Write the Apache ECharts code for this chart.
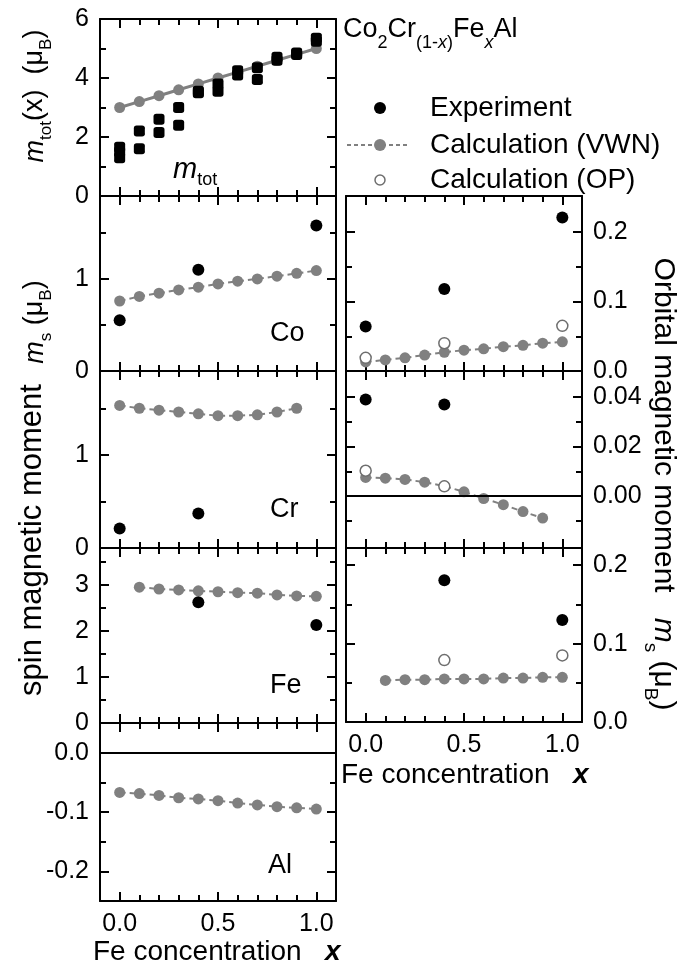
<!DOCTYPE html>
<html><head><meta charset="utf-8">
<script src="https://cdn.jsdelivr.net/npm/echarts@6/dist/echarts.min.js"></script>
<style>html,body{margin:0;padding:0;background:#fff}#c{width:688px;height:968px}</style>
</head><body><div id="c"></div>
<script>
// ---------- data ----------
const xAll = [0, 0.1, 0.2, 0.3, 0.4, 0.5, 0.6, 0.7, 0.8, 0.9, 1.0];
const xCr = [0, 0.1, 0.2, 0.3, 0.4, 0.5, 0.6, 0.7, 0.8, 0.9];
const xFe = [0.1, 0.2, 0.3, 0.4, 0.5, 0.6, 0.7, 0.8, 0.9, 1.0];
const xExp3 = [0, 0.4, 1.0];
const xExpCr = [0, 0.4];
const xExpFe = [0.4, 1.0];

const totExpX = [0, 0, 0, 0.1, 0.1, 0.2, 0.2, 0.3, 0.3, 0.4, 0.4, 0.5, 0.5, 0.6, 0.6, 0.7, 0.7, 0.8, 0.8, 0.9, 0.9, 1.0, 1.0];
const totExp = [1.65, 1.5, 1.3, 2.2, 1.6, 2.6, 2.15, 3.0, 2.4, 3.55, 3.5, 3.8, 3.55, 4.25, 4.1, 4.35, 3.95, 4.7, 4.6, 4.85, 4.8, 5.35, 5.25];
const totExpErr = [0.1, 0.1, 0.1, 0.1, 0.1, 0.1, 0.1, 0.1, 0.1, 0.1, 0.1, 0.1, 0.1, 0.1, 0.1, 0.1, 0.1, 0.1, 0.1, 0.1, 0.1, 0.1, 0.1];
const totVWN = [3.0, 3.2, 3.4, 3.6, 3.8, 4.0, 4.2, 4.4, 4.6, 4.8, 5.0];

const coSpinVWN = [0.76, 0.81, 0.845, 0.88, 0.91, 0.945, 0.975, 1.0, 1.03, 1.06, 1.09];
const coSpinExp = [0.55, 1.1, 1.58];
const crSpinVWN = [1.53, 1.50, 1.48, 1.46, 1.44, 1.42, 1.42, 1.43, 1.46, 1.50];
const crSpinExp = [0.21, 0.37];
const feSpinVWN = [2.95, 2.91, 2.89, 2.87, 2.85, 2.83, 2.82, 2.78, 2.76, 2.75];
const feSpinExp = [2.62, 2.13];
const alSpinVWN = [-0.067, -0.069, -0.072, -0.076, -0.078, -0.081, -0.085, -0.088, -0.091, -0.093, -0.095];

const coOrbVWN = [0.013, 0.016, 0.019, 0.023, 0.027, 0.030, 0.032, 0.035, 0.037, 0.040, 0.042];
const coOrbExp = [0.064, 0.118, 0.221];
const coOrbOP = [0.019, 0.040, 0.065];
const crOrbVWN = [0.0075, 0.0072, 0.0067, 0.0056, 0.0040, 0.0017, -0.0010, -0.0035, -0.0063, -0.0089];
const crOrbExp = [0.039, 0.037];
const crOrbOP = [0.0102, 0.0039];
const feOrbVWN = [0.053, 0.054, 0.054, 0.055, 0.055, 0.055, 0.056, 0.056, 0.057, 0.057];
const feOrbExp = [0.181, 0.130];
const feOrbOP = [0.079, 0.085];

const xMajor = [0, 0.5, 1.0];
const xMinor = [0.1, 0.2, 0.3, 0.4, 0.6, 0.7, 0.8, 0.9];

// ---------- layout / style ----------
const FONT = '"Liberation Sans", Arial, Helvetica, sans-serif';
const GREY = '#808080';
const panels = [
  {left: 100, top: 19,  h: 177, min: 0, max: 6,    major: [0, 2, 4, 6], minor: [1, 3, 5], side: 'left', dec: 0, xl: false},
  {left: 100, top: 196, h: 175, min: 0, max: 1.9,  major: [0, 1], minor: [0.5, 1.5], side: 'left', dec: 0, xl: false},
  {left: 100, top: 371, h: 177, min: 0, max: 1.9,  major: [0, 1], minor: [0.5, 1.5], side: 'left', dec: 0, xl: false},
  {left: 100, top: 548, h: 175, min: 0, max: 3.8,  major: [0, 1, 2, 3], minor: [0.5, 1.5, 2.5, 3.5], side: 'left', dec: 0, xl: false},
  {left: 100, top: 723, h: 178, min: -0.25, max: 0.05, major: [-0.2, -0.1, 0], minor: [-0.15, -0.05], side: 'left', dec: 1, xl: true},
  {left: 346, top: 196, h: 175, min: 0, max: 0.252, major: [0, 0.1, 0.2], minor: [0.05, 0.15], side: 'right', dec: 1, xl: false},
  {left: 346, top: 371, h: 177, min: -0.021, max: 0.0505, major: [0, 0.02, 0.04], minor: [-0.01, 0.01, 0.03], side: 'right', dec: 2, xl: false},
  {left: 346, top: 548, h: 174, min: 0, max: 0.222, major: [0, 0.1, 0.2], minor: [0.05, 0.15], side: 'right', dec: 1, xl: true}
];

const grids = [], xAxes = [], yAxes = [];
function mkX(g, pos, vals, len, line, labels) {
  return {gridIndex: g, type: 'value', min: -0.1, max: 1.1, position: pos,
    axisLine: {show: line, onZero: false, lineStyle: {color: '#000', width: 2}},
    axisTick: {show: true, inside: true, length: len, customValues: vals, lineStyle: {color: '#000', width: 2}},
    axisLabel: {show: labels, customValues: vals, formatter: v => (+v).toFixed(1), fontSize: 25, color: '#000', fontFamily: FONT, margin: 11},
    splitLine: {show: false}};
}
function mkY(g, p, pos, vals, len, line, labels) {
  return {gridIndex: g, type: 'value', min: p.min, max: p.max, position: pos,
    axisLine: {show: line, onZero: false, lineStyle: {color: '#000', width: 2}},
    axisTick: {show: true, inside: true, length: len, customValues: vals, lineStyle: {color: '#000', width: 2}},
    axisLabel: {show: labels, customValues: vals, formatter: v => (+v).toFixed(p.dec), fontSize: 25, color: '#000', fontFamily: FONT, margin: 11},
    splitLine: {show: false}};
}
panels.forEach((p, g) => {
  grids.push({left: p.left, top: p.top, width: 236, height: p.h, outerBoundsMode: 'none', containLabel: false});
  xAxes.push(mkX(g, 'bottom', xMajor, 9, true, p.xl));
  xAxes.push(mkX(g, 'bottom', xMinor, 6, false, false));
  xAxes.push(mkX(g, 'top', xMajor, 9, true, false));
  xAxes.push(mkX(g, 'top', xMinor, 6, false, false));
  yAxes.push(mkY(g, p, 'left', p.major, 9, true, p.side === 'left'));
  yAxes.push(mkY(g, p, 'left', p.minor, 6, false, false));
  yAxes.push(mkY(g, p, 'right', p.major, 9, true, p.side === 'right'));
  yAxes.push(mkY(g, p, 'right', p.minor, 6, false, false));
});

const zip = (xa, ya) => ya.map((v, i) => [xa[i], v]);
const series = [];
function vwn(g, xa, ya, dashed, zero) {
  const s = {type: 'line', xAxisIndex: 4 * g, yAxisIndex: 4 * g, data: zip(xa, ya), symbol: 'circle', symbolSize: 11,
    itemStyle: {color: GREY, opacity: 1}, lineStyle: {color: GREY, width: dashed ? 2 : 3, type: dashed ? [6, 4] : 'solid'}, z: 3, silent: true};
  if (zero) s.markLine = {silent: true, symbol: 'none', label: {show: false}, lineStyle: {color: '#000', width: 2, type: 'solid'}, data: [{yAxis: 0}]};
  series.push(s);
}
function exp(g, xa, ya, sym, size) {
  series.push({type: 'scatter', xAxisIndex: 4 * g, yAxisIndex: 4 * g, data: zip(xa, ya), symbol: sym || 'circle', symbolSize: size || 12,
    itemStyle: {color: '#000', opacity: 1}, z: 4, silent: true});
}
function op(g, xa, ya) {
  series.push({type: 'scatter', xAxisIndex: 4 * g, yAxisIndex: 4 * g, data: zip(xa, ya), symbol: 'circle', symbolSize: 11,
    itemStyle: {color: '#fff', borderColor: '#6e6e6e', borderWidth: 1.5, opacity: 1}, z: 5, silent: true});
}
vwn(0, xAll, totVWN, false);
// error bars for the measured total moment
series.push({type: 'custom', xAxisIndex: 0, yAxisIndex: 0, z: 4, silent: true,
  data: totExp.map((v, i) => [totExpX[i], v, totExpErr[i]]),
  renderItem: (params, api) => {
    const x = api.value(0), y = api.value(1), e = api.value(2);
    const a = api.coord([x, y + e]), b = api.coord([x, y - e]);
    const st = {stroke: '#000', lineWidth: 2};
    return {type: 'group', children: [
      {type: 'line', shape: {x1: a[0], y1: a[1], x2: b[0], y2: b[1]}, style: st},
      {type: 'line', shape: {x1: a[0] - 5, y1: a[1], x2: a[0] + 5, y2: a[1]}, style: st},
      {type: 'line', shape: {x1: b[0] - 5, y1: b[1], x2: b[0] + 5, y2: b[1]}, style: st}
    ]};
  }});
exp(0, totExpX, totExp, 'roundRect', 11);
vwn(1, xAll, coSpinVWN, true); exp(1, xExp3, coSpinExp);
vwn(2, xCr, crSpinVWN, true); exp(2, xExpCr, crSpinExp);
vwn(3, xFe, feSpinVWN, true); exp(3, xExpFe, feSpinExp);
vwn(4, xAll, alSpinVWN, true, true);
vwn(5, xAll, coOrbVWN, true); exp(5, xExp3, coOrbExp); op(5, xExp3, coOrbOP);
vwn(6, xCr, crOrbVWN, true, true); exp(6, xExpCr, crOrbExp); op(6, xExpCr, crOrbOP);
vwn(7, xFe, feOrbVWN, true); exp(7, xExpFe, feOrbExp); op(7, xExpFe, feOrbOP);

// ---------- texts ----------
const base = (fs, lh) => ({fontSize: fs, lineHeight: lh, fontFamily: FONT, fill: '#000'});
const sub = (fs, extra) => Object.assign({fontSize: fs, lineHeight: fs, fontFamily: FONT, fill: '#000', verticalAlign: 'bottom'}, extra || {});
function txt(x, y, text, rich, rot, align, fs) {
  return {type: 'text', x: x, y: y, rotation: rot || 0, silent: true,
    style: {text: text, rich: rich, align: align || 'left', verticalAlign: 'middle', fontFamily: FONT, fontSize: fs || 27, fill: '#000'}};
}
const richStd = {b: base(27, 40), i: Object.assign(base(27, 40), {fontStyle: 'italic'}), s: sub(17), si: sub(17, {fontStyle: 'italic'}),
  x: Object.assign(base(27, 40), {fontStyle: 'italic', fontWeight: 'bold'})};
const richBig = {b: base(30, 44), i: Object.assign(base(30, 44), {fontStyle: 'italic'}), s: sub(19)};
const richX = {b: base(28, 40), x: Object.assign(base(28, 40), {fontStyle: 'italic', fontWeight: 'bold'})};

const graphic = [
  txt(343, 30, '{b|Co}{s|2}{b|Cr}{s|(1-}{si|x}{s|)}{b|Fe}{si|x}{b|Al}', {b: base(27, 44), s: sub(18), si: sub(18, {fontStyle: 'italic'})}),
  // legend
  {type: 'circle', shape: {cx: 380, cy: 108, r: 6}, style: {fill: '#000'}, silent: true},
  {type: 'line', shape: {x1: 347, y1: 145, x2: 409, y2: 145}, style: {stroke: GREY, lineWidth: 2, lineDash: [4, 3]}, silent: true},
  {type: 'circle', shape: {cx: 380, cy: 145, r: 6}, style: {fill: GREY}, silent: true},
  {type: 'circle', shape: {cx: 380, cy: 180, r: 5}, style: {fill: '#fff', stroke: '#6e6e6e', lineWidth: 1.5}, silent: true},
  txt(430, 108, 'Experiment', null, 0, 'left', 28),
  txt(430, 145, 'Calculation (VWN)', null, 0, 'left', 28),
  txt(430, 180, 'Calculation (OP)', null, 0, 'left', 28),
  // panel labels
  txt(173, 170, '{i|m}{s|tot}', {i: Object.assign(base(29, 38), {fontStyle: 'italic'}), s: sub(18)}),
  txt(270, 334, 'Co'),
  txt(270, 510, 'Cr'),
  txt(270, 686, 'Fe'),
  txt(268, 866, 'Al'),
  // axis titles
  txt(35, 96, '{i|m}{s|tot}{b|(x)  (μ}{s|B}{b|)}', richStd, Math.PI / 2, 'center'),
  txt(35, 322, '{i|m}{s|s}{b| (μ}{s|B}{b|)}', richStd, Math.PI / 2, 'center'),
  txt(32, 540, 'spin magnetic moment', null, Math.PI / 2, 'center', 31),
  txt(663, 484, '{b|Orbital magnetic moment   }{i|m}{s|s}{b| (μ}{s|B}{b|)}', richBig, -Math.PI / 2, 'center'),
  txt(93, 952, '{b|Fe concentration   }{x|x}', richX),
  txt(341, 775, '{b|Fe concentration   }{x|x}', richX)
];

const chart = echarts.init(document.getElementById('c'), null, {renderer: 'canvas'});
chart.setOption({animation: false, backgroundColor: '#fff', grid: grids, xAxis: xAxes, yAxis: yAxes, series: series, graphic: graphic});
</script></body></html>
